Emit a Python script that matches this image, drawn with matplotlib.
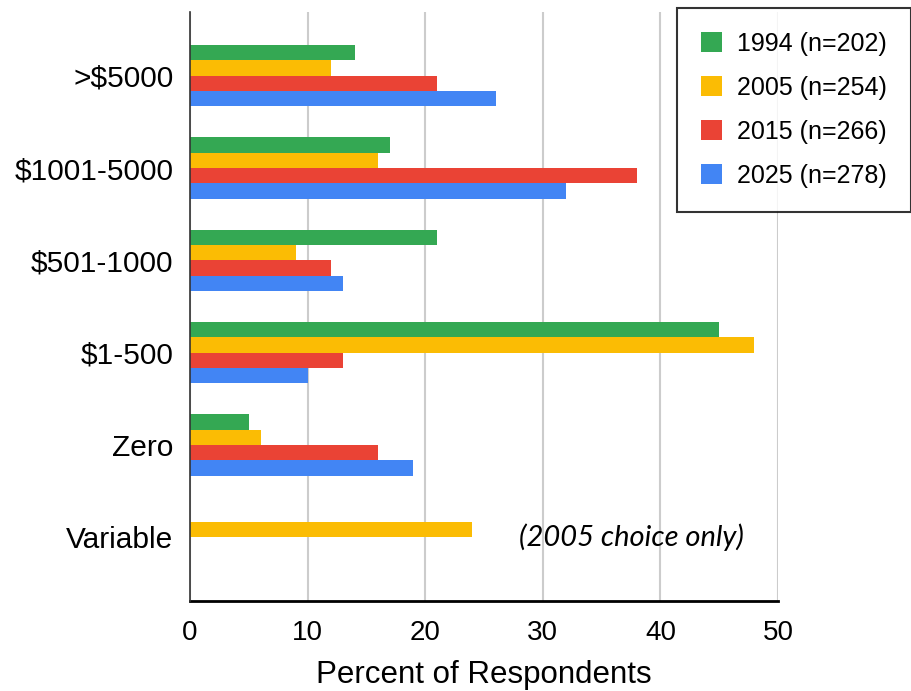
import numpy as np
import matplotlib.pyplot as plt
from matplotlib.patches import Patch

# categories top to bottom
categories = [">$5000", "$1001-5000", "$501-1000", "$1-500", "Zero", "Variable"]

# percent of respondents per survey year
pct_1994 = [14, 17, 21, 45, 5, np.nan]
pct_2005 = [12, 16, 9, 48, 6, 24]
pct_2015 = [21, 38, 12, 13, 16, np.nan]
pct_2025 = [26, 32, 13, 10, 19, np.nan]

series_labels = ["1994 (n=202)", "2005 (n=254)", "2015 (n=266)", "2025 (n=278)"]
colors = ["#34A853", "#FBBC04", "#EA4335", "#4285F4"]

plt.rcParams['font.family'] = ['Liberation Sans', 'DejaVu Sans']

fig = plt.figure(figsize=(9.12, 6.91), dpi=100)
ax = fig.add_axes([190/912, 1 - 601/691, (778 - 190)/912, (601 - 12)/691])

y = np.arange(len(categories))
h = 0.166
all_vals = [pct_1994, pct_2005, pct_2015, pct_2025]
for i, vals in enumerate(all_vals):
    ax.barh(y + (i - 1.5) * h, vals, height=h, color=colors[i], zorder=3)

ax.set_xlim(0, 50)
ax.set_ylim(5.69, -0.69)
ax.set_xticks([0, 10, 20, 30, 40, 50])
ax.set_yticks(y)
ax.set_yticklabels(categories, fontsize=21.5)
ax.tick_params(axis='x', length=0, pad=14, labelsize=20)
ax.tick_params(axis='y', length=0, pad=12)
ax.grid(axis='x', color='#cccccc', linewidth=1.5, zorder=0)

for s in ['top', 'right']:
    ax.spines[s].set_visible(False)
ax.spines['left'].set_color('#333333')
ax.spines['left'].set_linewidth(1.2)
ax.spines['left'].set_zorder(4)
ax.spines['bottom'].set_color('black')
ax.spines['bottom'].set_linewidth(2)

ax.set_xlabel("Percent of Respondents", fontsize=22.5, labelpad=10)

ax.text(37.5, 5, "(2005 choice only)", fontsize=21, style='italic',
        family='Lato', ha='center', va='center')

handles = [Patch(facecolor=c) for c in colors]
leg = fig.legend(handles, series_labels, loc='upper right',
                 bbox_to_anchor=(911/912, 1 - 8/691), fontsize=18,
                 frameon=True, fancybox=False, edgecolor='black',
                 handlelength=0.85, handleheight=0.85, handletextpad=0.6,
                 labelspacing=0.8, borderpad=0.95, borderaxespad=0)
leg.get_frame().set_linewidth(1.5)

fig.savefig("out.png", dpi=100)
